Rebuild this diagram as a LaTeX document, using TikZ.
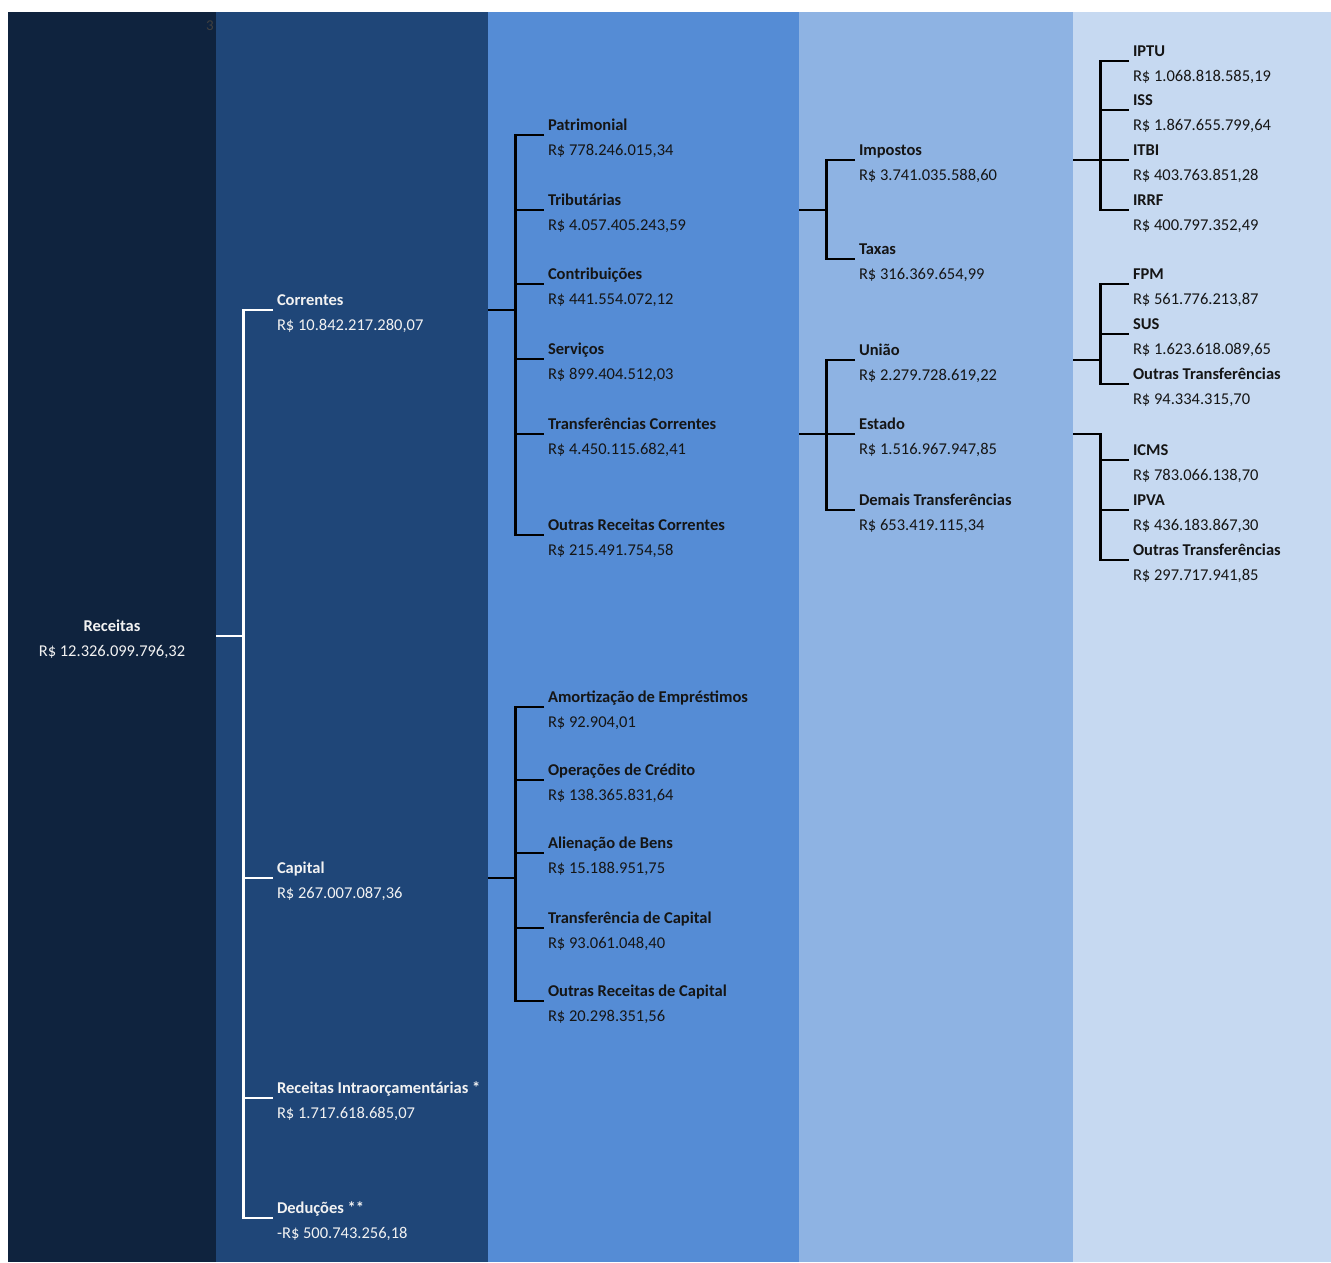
\documentclass[tikz,border=0pt]{standalone}
\usepackage{fontspec}
\setmainfont{Carlito}
\definecolor{cA}{HTML}{0F233E}
\definecolor{cB}{HTML}{1F4678}
\definecolor{cC}{HTML}{558CD5}
\definecolor{cD}{HTML}{8EB3E3}
\definecolor{cE}{HTML}{C6D9F1}
\definecolor{lighttxt}{HTML}{F2F2F2}
\definecolor{darktxt}{HTML}{151515}
\definecolor{pgtxt}{HTML}{404040}
\newcommand{\twoln}[2]{\rule{0pt}{20pt}\textbf{#1}\\#2\rule[-4pt]{0pt}{4pt}}
\begin{document}
\begin{tikzpicture}[x=1pt,y=-1pt,
  colbox/.style={anchor=north west, inner sep=0pt, outer sep=0pt, minimum height=1250pt},
  lbl/.style={anchor=west, align=left, inner xsep=4pt, inner ysep=0pt, outer sep=0pt,
              font=\fontsize{16.5}{25}\selectfont},
  lw/.style={lbl, text=lighttxt},
  ld/.style={lbl, text=darktxt},
  wline/.style={draw=white, line width=2.6pt},
  bline/.style={draw=black, line width=2.4pt}]
\useasboundingbox[fill=white] (0,0) rectangle (1331,1262);
% columns
\node[colbox, fill=cA, minimum width=208pt] (col1) at (8,12) {};
\node[colbox, fill=cB, minimum width=272pt] (col2) at (216,12) {};
\node[colbox, fill=cC, minimum width=311pt] (col3) at (488,12) {};
\node[colbox, fill=cD, minimum width=274pt] (col4) at (799,12) {};
\node[colbox, fill=cE, minimum width=258pt] (col5) at (1073,12) {};
\node[anchor=east, inner sep=0pt, text=pgtxt, font=\fontsize{15}{17}\selectfont] (pg) at (214,26) {3};
% spine coordinates
\coordinate (sA) at (243.5,0);
\coordinate (sB) at (515.5,0);
\coordinate (sC) at (826.5,0);
\coordinate (sD) at (1100.5,0);
% level 1
\node[lw, align=center, anchor=center] (receitas) at (112,636) {\twoln{Receitas}{R\$ 12.326.099.796,32}};
% level 2
\node[lw] (correntes) at (273,310) {\twoln{Correntes}{R\$ 10.842.217.280,07}};
\node[lw] (capital) at (273,878) {\twoln{Capital}{R\$ 267.007.087,36}};
\node[lw] (intra) at (273,1098) {\twoln{Receitas Intraorçamentárias *}{R\$ 1.717.618.685,07}};
\node[lw] (deducoes) at (273,1218) {\twoln{Deduções **}{-R\$ 500.743.256,18}};
% level 3
\node[ld] (patrimonial) at (544,135) {\twoln{Patrimonial}{R\$ 778.246.015,34}};
\node[ld] (tributarias) at (544,210) {\twoln{Tributárias}{R\$ 4.057.405.243,59}};
\node[ld] (contribuicoes) at (544,284) {\twoln{Contribuições}{R\$ 441.554.072,12}};
\node[ld] (servicos) at (544,359) {\twoln{Serviços}{R\$ 899.404.512,03}};
\node[ld] (transfcorr) at (544,434) {\twoln{Transferências Correntes}{R\$ 4.450.115.682,41}};
\node[ld] (outrasrc) at (544,535) {\twoln{Outras Receitas Correntes}{R\$ 215.491.754,58}};
\node[ld] (amortizacao) at (544,707) {\twoln{Amortização de Empréstimos}{R\$ 92.904,01}};
\node[ld] (operacoes) at (544,780) {\twoln{Operações de Crédito}{R\$ 138.365.831,64}};
\node[ld] (alienacao) at (544,853) {\twoln{Alienação de Bens}{R\$ 15.188.951,75}};
\node[ld] (transfcap) at (544,928) {\twoln{Transferência de Capital}{R\$ 93.061.048,40}};
\node[ld] (outrascap) at (544,1001) {\twoln{Outras Receitas de Capital}{R\$ 20.298.351,56}};
% level 4
\node[ld] (impostos) at (855,160) {\twoln{Impostos}{R\$ 3.741.035.588,60}};
\node[ld] (taxas) at (855,259) {\twoln{Taxas}{R\$ 316.369.654,99}};
\node[ld] (uniao) at (855,360) {\twoln{União}{R\$ 2.279.728.619,22}};
\node[ld] (estado) at (855,434) {\twoln{Estado}{R\$ 1.516.967.947,85}};
\node[ld] (demais) at (855,510) {\twoln{Demais Transferências}{R\$ 653.419.115,34}};
% level 5
\node[ld] (iptu) at (1129,61) {\twoln{IPTU}{R\$ 1.068.818.585,19}};
\node[ld] (iss) at (1129,110) {\twoln{ISS}{R\$ 1.867.655.799,64}};
\node[ld] (itbi) at (1129,160) {\twoln{ITBI}{R\$ 403.763.851,28}};
\node[ld] (irrf) at (1129,210) {\twoln{IRRF}{R\$ 400.797.352,49}};
\node[ld] (fpm) at (1129,284) {\twoln{FPM}{R\$ 561.776.213,87}};
\node[ld] (sus) at (1129,334) {\twoln{SUS}{R\$ 1.623.618.089,65}};
\node[ld] (outrasu) at (1129,384) {\twoln{Outras Transferências}{R\$ 94.334.315,70}};
\node[ld] (icms) at (1129,460) {\twoln{ICMS}{R\$ 783.066.138,70}};
\node[ld] (ipva) at (1129,510) {\twoln{IPVA}{R\$ 436.183.867,30}};
\node[ld] (outrase) at (1129,560) {\twoln{Outras Transferências}{R\$ 297.717.941,85}};
% connectors: Receitas
\draw[wline] (col1.east |- receitas) -- (sA |- receitas);
\draw[wline] (correntes.west) -| (sA |- deducoes.west) -- (deducoes.west);
\draw[wline] (sA |- capital.west) -- (capital.west);
\draw[wline] (sA |- intra.west) -- (intra.west);
% Correntes
\draw[bline] (col2.east |- correntes.west) -- (sB |- correntes.west);
\draw[bline] (patrimonial.west) -| (sB |- outrasrc.west) -- (outrasrc.west);
\foreach \n in {tributarias,contribuicoes,servicos,transfcorr}
  \draw[bline] (sB |- \n.west) -- (\n.west);
% Capital
\draw[bline] (col2.east |- capital.west) -- (sB |- capital.west);
\draw[bline] (amortizacao.west) -| (sB |- outrascap.west) -- (outrascap.west);
\foreach \n in {operacoes,alienacao,transfcap}
  \draw[bline] (sB |- \n.west) -- (\n.west);
% Tributarias
\draw[bline] (col3.east |- tributarias.west) -- (sC |- tributarias.west);
\draw[bline] (impostos.west) -| (sC |- taxas.west) -- (taxas.west);
% Transferencias Correntes
\draw[bline] (col3.east |- transfcorr.west) -- (sC |- transfcorr.west);
\draw[bline] (uniao.west) -| (sC |- demais.west) -- (demais.west);
\draw[bline] (sC |- estado.west) -- (estado.west);
% Impostos
\draw[bline] (col4.east |- impostos.west) -- (sD |- impostos.west);
\draw[bline] (iptu.west) -| (sD |- irrf.west) -- (irrf.west);
\foreach \n in {iss,itbi}
  \draw[bline] (sD |- \n.west) -- (\n.west);
% Uniao
\draw[bline] (col4.east |- uniao.west) -- (sD |- uniao.west);
\draw[bline] (fpm.west) -| (sD |- outrasu.west) -- (outrasu.west);
\draw[bline] (sD |- sus.west) -- (sus.west);
% Estado
\draw[bline] (col4.east |- estado.west) -| (sD |- outrase.west) -- (outrase.west);
\foreach \n in {icms,ipva}
  \draw[bline] (sD |- \n.west) -- (\n.west);
\end{tikzpicture}
\end{document}
